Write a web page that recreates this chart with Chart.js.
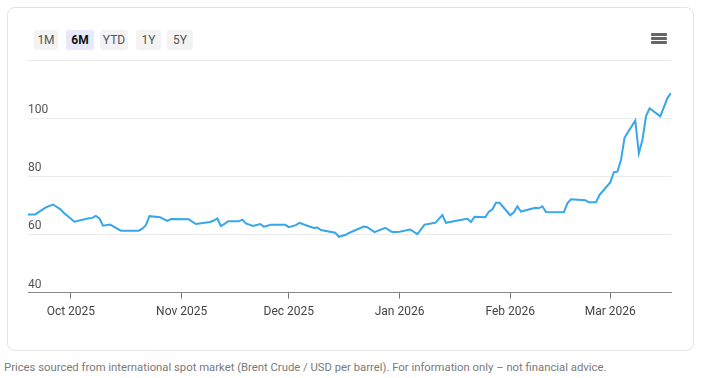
<!DOCTYPE html>
<html>
<head>
<meta charset="utf-8">
<script src="https://cdn.jsdelivr.net/npm/chart.js@4"></script>
<style>
  html, body { margin: 0; padding: 0; background: #fff; }
  body { width: 702px; height: 378px; position: relative; font-family: "Segoe UI", Roboto, "Open Sans", sans-serif; overflow: hidden; }
  .card { position: absolute; left: 7px; top: 7px; width: 687px; height: 344px; border: 1px solid #e3e3e3; border-radius: 8px; box-sizing: border-box; }
  .ranges { position: absolute; left: 26px; top: 22px; }
  .ranges span { position: absolute; top: 0; height: 20px; line-height: 20px; text-align: center; font-size: 12px; color: #555; background: #f3f3f4; border-radius: 3px; }
  .ranges span.on { background: #e6e9fb; color: #111; font-weight: bold; }
  .menu { position: absolute; left: 643px; top: 25px; width: 16px; }
  .menu i { display: block; height: 3px; background: #666; margin-bottom: 1px; border-radius: 1px; }
  .wrap { position: absolute; left: 10px; top: 42px; width: 666px; height: 275px; }
  .note { position: absolute; left: 4px; top: 361px; font-size: 11.3px; color: #7a7a7a; white-space: nowrap; }
</style>
</head>
<body>
<div class="card">
  <div class="ranges">
    <span style="left:0;width:24px">1M</span>
    <span class="on" style="left:32px;width:28px">6M</span>
    <span style="left:66px;width:28px">YTD</span>
    <span style="left:102px;width:25px">1Y</span>
    <span style="left:133px;width:26px">5Y</span>
  </div>
  <div class="menu"><i></i><i></i><i></i></div>
  <div class="wrap"><canvas id="priceChart"></canvas></div>
</div>
<div class="note">Prices sourced from international spot market (Brent Crude / USD per barrel). For information only – not financial advice.</div>
<script>
// Brent crude, USD per barrel
const dates = [
  '2025-09-19','2025-09-21','2025-09-24','2025-09-26','2025-09-28','2025-09-29',
  '2025-10-02','2025-10-06','2025-10-07','2025-10-08','2025-10-09','2025-10-10',
  '2025-10-12','2025-10-15','2025-10-20','2025-10-21','2025-10-22','2025-10-23',
  '2025-10-26','2025-10-28','2025-10-29','2025-11-03','2025-11-05','2025-11-09',
  '2025-11-10','2025-11-11','2025-11-12','2025-11-13','2025-11-14','2025-11-17',
  '2025-11-18','2025-11-19','2025-11-21','2025-11-23','2025-11-24','2025-11-26',
  '2025-11-30','2025-12-01','2025-12-03','2025-12-04','2025-12-06','2025-12-08',
  '2025-12-09','2025-12-10','2025-12-14','2025-12-15','2025-12-17','2025-12-18',
  '2025-12-22','2025-12-23','2025-12-25','2025-12-28','2025-12-30','2026-01-01',
  '2026-01-04','2026-01-06','2026-01-08','2026-01-11','2026-01-13','2026-01-14',
  '2026-01-18','2026-01-20','2026-01-21','2026-01-22','2026-01-25','2026-01-26',
  '2026-01-27','2026-01-28','2026-01-29','2026-02-01','2026-02-02','2026-02-03',
  '2026-02-04','2026-02-08','2026-02-09','2026-02-10','2026-02-11','2026-02-16',
  '2026-02-17','2026-02-18','2026-02-22','2026-02-23','2026-02-25','2026-02-26',
  '2026-03-01','2026-03-02','2026-03-03','2026-03-04','2026-03-05','2026-03-08',
  '2026-03-09','2026-03-10','2026-03-11','2026-03-12','2026-03-15','2026-03-17',
  '2026-03-18'
];
const prices = [
  66.9, 66.9, 69.3, 70.3, 68.7, 67.5,
  64.4, 65.6, 65.7, 66.4, 65.5, 63.0,
  63.4, 61.3, 61.3, 62.0, 63.2, 66.3,
  65.9, 64.7, 65.3, 65.2, 63.6, 64.3,
  64.8, 65.5, 62.9, 63.6, 64.5, 64.5,
  65.1, 63.8, 62.9, 63.6, 62.7, 63.3,
  63.3, 62.5, 63.2, 64.0, 63.1, 62.2,
  62.4, 61.5, 60.6, 59.2, 59.9, 60.6,
  62.7, 62.5, 60.8, 62.3, 60.8, 60.9,
  61.7, 60.1, 63.4, 64.0, 66.7, 64.0,
  65.0, 65.4, 64.3, 66.1, 65.9, 67.8,
  68.6, 70.9, 70.9, 66.6, 67.6, 69.7,
  67.9, 69.2, 69.0, 69.7, 67.7, 67.6,
  70.7, 72.1, 71.8, 71.1, 71.1, 73.6,
  77.9, 81.4, 81.6, 85.6, 93.3, 99.2,
  87.9, 92.5, 100.6, 103.4, 100.6, 106.9,
  108.6
];
const monthTicks = ['2025-10-01','2025-11-01','2025-12-01','2026-01-01','2026-02-01','2026-03-01'];
const monthNames = ['Jan','Feb','Mar','Apr','May','Jun','Jul','Aug','Sep','Oct','Nov','Dec'];
const yTicks = [40, 60, 80, 100, 120];

const DAY = 86400000;
function dayNum(s) {
  const p = s.split('-').map(Number);
  return Date.UTC(p[0], p[1] - 1, p[2]) / DAY;
}
function monthLabel(d) {
  const dt = new Date(d * DAY);
  return monthNames[dt.getUTCMonth()] + ' ' + dt.getUTCFullYear();
}

const points = dates.map((d, i) => ({ x: dayNum(d), y: prices[i] }));

Chart.defaults.font.family = '"Segoe UI", Roboto, "Open Sans", sans-serif';

new Chart(document.getElementById('priceChart'), {
  type: 'line',
  data: {
    datasets: [{
      label: 'Brent',
      data: points,
      borderColor: '#38a6ea',
      borderWidth: 2,
      pointRadius: 0,
      tension: 0,
      fill: false
    }]
  },
  options: {
    responsive: true,
    maintainAspectRatio: false,
    animation: false,
    layout: { padding: { left: 10, right: 13, top: 10, bottom: 0 } },
    plugins: {
      legend: { display: false },
      tooltip: { enabled: false }
    },
    scales: {
      x: {
        type: 'linear',
        min: dayNum(dates[0]),
        max: dayNum(dates[dates.length - 1]),
        afterBuildTicks: (axis) => {
          axis.ticks = monthTicks.map(m => ({ value: dayNum(m) }));
        },
        ticks: {
          color: '#444',
          font: { size: 12 },
          maxRotation: 0,
          autoSkip: false,
          padding: 6,
          callback: (v) => monthLabel(v)
        },
        grid: { drawOnChartArea: false, drawTicks: true, tickLength: 6, color: '#777' },
        border: { display: true, color: '#888', width: 1 }
      },
      y: {
        min: 40,
        max: 120,
        afterBuildTicks: (axis) => {
          axis.ticks = yTicks.map(v => ({ value: v }));
        },
        ticks: {
          mirror: true,
          padding: 0,
          labelOffset: -8,
          color: '#555',
          font: { size: 12 },
          callback: (v) => (v === 120 ? '' : v)
        },
        grid: { color: '#ebebeb', drawTicks: false },
        border: { display: false }
      }
    }
  }
});
</script>
</body>
</html>
